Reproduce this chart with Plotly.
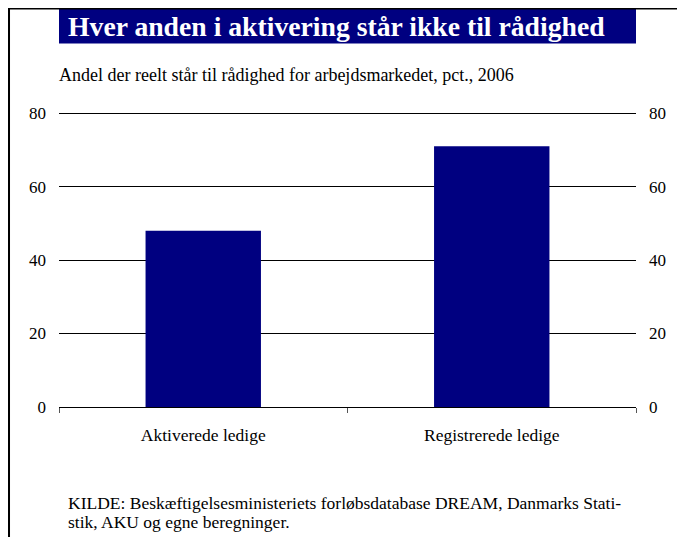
import plotly.graph_objects as go

# Data
categories = ['Aktiverede ledige', 'Registrerede ledige']
values = [48, 71]
y_ticks = [0, 20, 40, 60, 80]

title_text = 'Hver anden i aktivering står ikke til rådighed'
subtitle_text = 'Andel der reelt står til rådighed for arbejdsmarkedet, pct., 2006'
source_lines = [
    'KILDE: Beskæftigelsesministeriets forløbsdatabase DREAM, Danmarks Stati-',
    'stik, AKU og egne beregninger.',
]

NAVY = '#000080'
FONT = 'Liberation Serif, Times New Roman, serif'

fig = go.Figure()

fig.add_trace(go.Bar(
    x=categories,
    y=values,
    marker=dict(color=NAVY, line=dict(width=0)),
    hoverinfo='skip',
    showlegend=False
))

# invisible trace so the right axis gets its own tick labels
fig.add_trace(go.Scatter(
    x=categories,
    y=values,
    yaxis='y2',
    mode='markers',
    marker=dict(opacity=0),
    hoverinfo='skip',
    showlegend=False
))

# the page adds an 8px body margin, so the figure is 8px smaller
# y range goes a hair over 80 so the top gridline is drawn
fig.update_layout(
    width=677,
    height=529,
    margin=dict(l=51, r=49, t=103.5, b=130),
    paper_bgcolor='white',
    plot_bgcolor='white',
    font=dict(family=FONT, size=17.5, color='#000000'),
    bargap=0.6,
    xaxis=dict(
        type='category',
        showgrid=False,
        showline=True,
        linecolor='#000000',
        linewidth=1,
        ticks='outside',
        tickson='boundaries',
        ticklen=5,
        tickcolor='#555555',
        ticklabelstandoff=12,
        tickfont=dict(size=17.5),
        zeroline=False,
    ),
    yaxis=dict(
        range=[0, 80.3],
        tickvals=y_ticks,
        showgrid=True,
        gridcolor='#000000',
        gridwidth=1,
        zeroline=False,
        showline=False,
        ticks='',
        ticklabelstandoff=12,
        tickfont=dict(size=17),
    ),
    yaxis2=dict(
        range=[0, 80.3],
        tickvals=y_ticks,
        overlaying='y',
        side='right',
        showgrid=False,
        zeroline=False,
        showline=False,
        ticks='',
        ticklabelstandoff=12,
        tickfont=dict(size=17),
    ),
    shapes=[
        # title box
        dict(type='rect', xref='paper', yref='paper',
             x0=0, x1=1, y0=1.2326, y1=1.3515,
             fillcolor=NAVY, line=dict(width=0), layer='below'),
        # frame: top and left
        dict(type='line', xref='paper', yref='paper',
             x0=-0.0875, x1=1.09, y0=1.3525, y1=1.3525,
             line=dict(color='#000000', width=3)),
        dict(type='line', xref='paper', yref='paper',
             x0=-0.0875, x1=-0.0875, y0=1.3525, y1=-0.45,
             line=dict(color='#000000', width=3)),
    ],
    annotations=[
        dict(text='<b>' + title_text + '</b>',
             xref='paper', yref='paper', x=0.012, y=1.290,
             xanchor='left', yanchor='middle', showarrow=False,
             font=dict(size=27.7, color='white', family=FONT)),
        dict(text=subtitle_text,
             xref='paper', yref='paper', x=-0.003, y=1.127,
             xanchor='left', yanchor='middle', showarrow=False,
             font=dict(size=18)),
        dict(text=source_lines[0],
             xref='paper', yref='paper', x=0.012, y=-0.326,
             xanchor='left', yanchor='middle', showarrow=False,
             font=dict(size=17.5)),
        dict(text=source_lines[1],
             xref='paper', yref='paper', x=0.012, y=-0.3905,
             xanchor='left', yanchor='middle', showarrow=False,
             font=dict(size=17.5)),
    ],
)

fig.write_html('out.html')
